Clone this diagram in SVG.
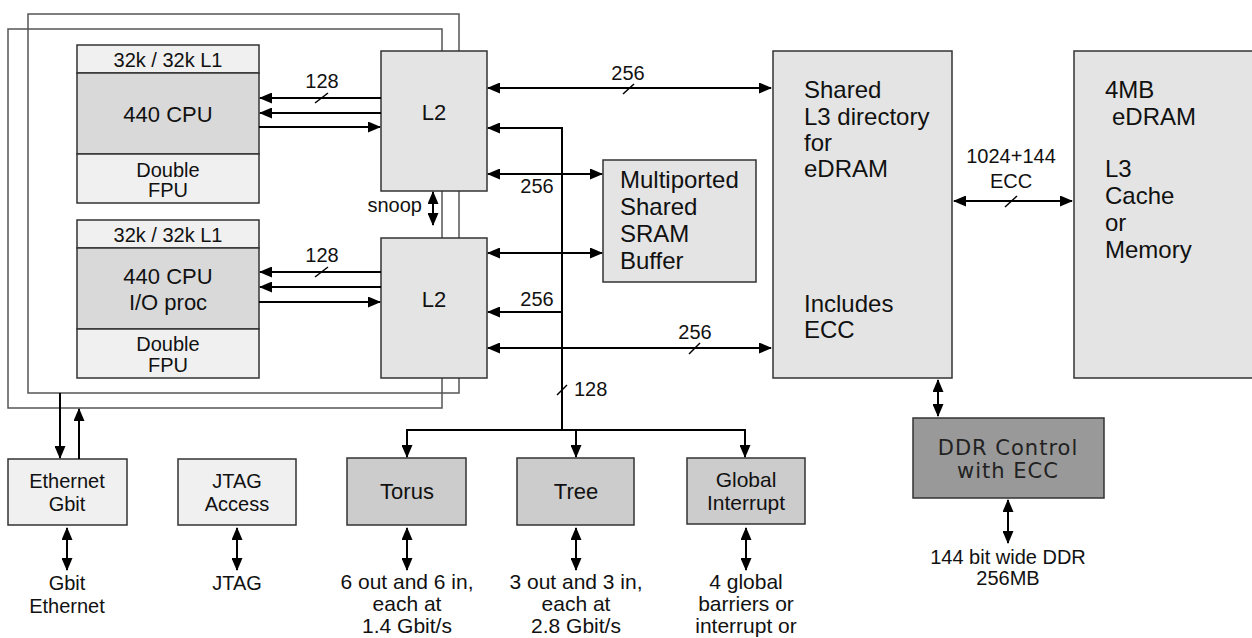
<svg xmlns="http://www.w3.org/2000/svg" width="1252" height="638" viewBox="0 0 1252 638">
<defs>
<marker id="ah" markerUnits="userSpaceOnUse" markerWidth="13" markerHeight="11" viewBox="0 0 13 11" refX="12" refY="5.5" orient="auto-start-reverse"><path d="M0,0 L13,5.5 L0,11 z" fill="#000"/></marker>
</defs>
<style>
text{font-family:"Liberation Sans",Arial,sans-serif;fill:#111}
.b{stroke:#333;stroke-width:1.5}
.lt{fill:#f0f0f0}
.md{fill:#e4e4e4}
.cpu{fill:#d9d9d9}
.dk{fill:#cccccc}
.ddr{fill:#999999}
.fr{fill:none;stroke:#555;stroke-width:1.5}
.c{fill:none;stroke:#000;stroke-width:2}
.a2{marker-start:url(#ah);marker-end:url(#ah)}
.a1{marker-end:url(#ah)}
.sl{stroke:#000;stroke-width:1.5}
.m{text-anchor:middle}
.s20{font-size:20px}
.s21{font-size:21px}
.s22{font-size:22px}
.s24{font-size:24px}
.dd{font-family:"DejaVu Sans",Verdana,sans-serif;font-size:21px;letter-spacing:1px;fill:#222}
</style>
<g id="frames">
<rect class="fr" x="28" y="14" width="431" height="379"/>
<rect class="fr" x="8" y="29" width="434" height="379"/>
</g>
<g id="cpu0">
<rect class="b lt" x="77" y="45" width="182" height="28"/>
<rect class="b cpu" x="77" y="73" width="182" height="81"/>
<rect class="b lt" x="77" y="154" width="182" height="49"/>
<text class="m s20" x="168" y="67">32k / 32k L1</text>
<text class="m s22" x="168" y="122">440 CPU</text>
<text class="m s20" x="168" y="177">Double</text>
<text class="m s20" x="168" y="197">FPU</text>
</g>
<g id="cpu1">
<rect class="b lt" x="77" y="220" width="182" height="28"/>
<rect class="b cpu" x="77" y="248" width="182" height="81"/>
<rect class="b lt" x="77" y="329" width="182" height="49"/>
<text class="m s20" x="168" y="242">32k / 32k L1</text>
<text class="m s22" x="168" y="284">440 CPU</text>
<text class="m s22" x="168" y="310">I/O proc</text>
<text class="m s20" x="168" y="351">Double</text>
<text class="m s20" x="168" y="372">FPU</text>
</g>
<g id="l2a">
<rect class="b md" x="381" y="51" width="106" height="140"/>
<text class="m s22" x="434" y="120">L2</text>
</g>
<g id="l2b">
<rect class="b md" x="381" y="238" width="106" height="140"/>
<text class="m s22" x="434" y="307">L2</text>
</g>
<g id="sram">
<rect class="b md" x="603" y="160" width="153" height="122"/>
<text class="s24" x="620" y="188">Multiported</text>
<text class="s24" x="620" y="215">Shared</text>
<text class="s24" x="620" y="242">SRAM</text>
<text class="s24" x="620" y="269">Buffer</text>
</g>
<g id="l3dir">
<rect class="b md" x="773" y="51" width="179" height="327"/>
<text class="s24" x="804" y="98">Shared</text>
<text class="s24" x="804" y="125">L3 directory</text>
<text class="s24" x="804" y="151">for</text>
<text class="s24" x="804" y="177">eDRAM</text>
<text class="s24" x="804" y="312">Includes</text>
<text class="s24" x="804" y="338">ECC</text>
</g>
<g id="edram">
<rect class="b md" x="1074" y="51" width="190" height="327"/>
<text class="s24" x="1105" y="98">4MB</text>
<text class="s24" x="1112" y="125">eDRAM</text>
<text class="s24" x="1105" y="177">L3</text>
<text class="s24" x="1105" y="204">Cache</text>
<text class="s24" x="1105" y="231">or</text>
<text class="s24" x="1105" y="258">Memory</text>
</g>
<g id="ddr">
<rect class="b ddr" x="913" y="418" width="191" height="80"/>
<text class="m dd" x="1008" y="455">DDR Control</text>
<text class="m dd" x="1008" y="478">with ECC</text>
</g>
<g id="ethernet">
<rect class="b lt" x="8" y="459" width="119" height="66"/>
<text class="m s20" x="67" y="488">Ethernet</text>
<text class="m s20" x="67" y="511">Gbit</text>
</g>
<g id="jtag">
<rect class="b lt" x="178" y="459" width="118" height="66"/>
<text class="m s20" x="237" y="488">JTAG</text>
<text class="m s20" x="237" y="511">Access</text>
</g>
<g id="torus">
<rect class="b dk" x="347" y="458" width="119" height="67"/>
<text class="m s22" x="407" y="499">Torus</text>
</g>
<g id="tree">
<rect class="b dk" x="517" y="458" width="117" height="67"/>
<text class="m s22" x="576" y="499">Tree</text>
</g>
<g id="global">
<rect class="b dk" x="687" y="458" width="118" height="66"/>
<text class="m s21" x="746" y="487">Global</text>
<text class="m s21" x="746" y="510">Interrupt</text>
</g>
<g id="connectors">
<path class="c a1" d="M381,98 H260"/>
<path class="c a1" d="M381,113 H260"/>
<path class="c a1" d="M259,127 H380"/>
<path class="c a1" d="M381,272 H260"/>
<path class="c a1" d="M381,287 H260"/>
<path class="c a1" d="M259,302 H380"/>
<path class="c a2" d="M433,192 V225"/>
<path class="c a2" d="M488,88 H771"/>
<path class="c a1" d="M562,430 V128 H488"/>
<path class="c a2" d="M488,174 H602"/>
<path class="c a2" d="M488,253 H602"/>
<path class="c a1" d="M562,312 H488"/>
<path class="c a2" d="M488,348 H771"/>
<path class="c a2" d="M407,457 V430 H745 V457"/>
<path class="c a1" d="M576,430 V457"/>
<path class="c a2" d="M954,201 H1072"/>
<path class="c a2" d="M938,380 V416"/>
<path class="c a2" d="M1008,500 V543"/>
<path class="c a1" d="M60,393 V458"/>
<path class="c a1" d="M79,459 V409"/>
<path class="c a2" d="M67,528 V570"/>
<path class="c a2" d="M237,528 V570"/>
<path class="c a2" d="M407,528 V570"/>
<path class="c a2" d="M576,528 V570"/>
<path class="c a2" d="M746,528 V570"/>
<line class="sl" x1="315" y1="103" x2="328" y2="93"/>
<line class="sl" x1="315" y1="277" x2="328" y2="267"/>
<line class="sl" x1="623" y1="94" x2="634" y2="84"/>
<line class="sl" x1="689" y1="354" x2="700" y2="343"/>
<line class="sl" x1="557" y1="395" x2="567" y2="385"/>
<line class="sl" x1="1005" y1="207" x2="1017" y2="196"/>
<text class="m s20" x="322" y="88">128</text>
<text class="m s20" x="322" y="262">128</text>
<text class="s20" x="422" y="212" text-anchor="end">snoop</text>
<text class="m s20" x="628" y="80">256</text>
<text class="m s20" x="537" y="193">256</text>
<text class="m s20" x="537" y="306">256</text>
<text class="m s20" x="695" y="339">256</text>
<text class="s20" x="574" y="396">128</text>
<text class="m s20" x="1011" y="163">1024+144</text>
<text class="m s20" x="1011" y="188">ECC</text>
</g>
<g id="labels">
<text class="m s20" x="67" y="590">Gbit</text>
<text class="m s20" x="67" y="613">Ethernet</text>
<text class="m s20" x="237" y="590">JTAG</text>
<text class="m s21" x="407" y="589">6 out and 6 in,</text>
<text class="m s21" x="407" y="611">each at</text>
<text class="m s21" x="407" y="633">1.4 Gbit/s</text>
<text class="m s21" x="576" y="589">3 out and 3 in,</text>
<text class="m s21" x="576" y="611">each at</text>
<text class="m s21" x="576" y="633">2.8 Gbit/s</text>
<text class="m s21" x="746" y="589">4 global</text>
<text class="m s21" x="746" y="611">barriers or</text>
<text class="m s21" x="746" y="633">interrupt or</text>
<text class="m s20" x="1008" y="564">144 bit wide DDR</text>
<text class="m s20" x="1008" y="585">256MB</text>
</g>
</svg>
